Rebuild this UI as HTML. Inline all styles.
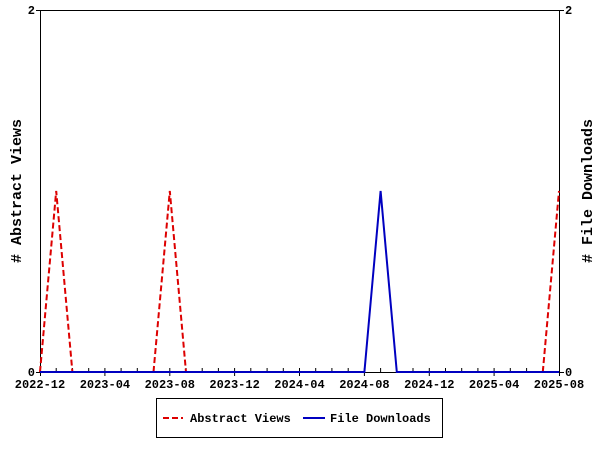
<!DOCTYPE html>
<html><head><meta charset="utf-8"><style>body{margin:0;background:#fff}svg{display:block}</style></head>
<body>
<svg width="600" height="450" xmlns="http://www.w3.org/2000/svg" font-family="Liberation Mono, DejaVu Sans Mono, monospace" font-weight="bold">
<rect x="0" y="0" width="600" height="450" fill="#fff"/>
<rect x="40.5" y="10.5" width="519" height="362" fill="none" stroke="#000" stroke-width="1"/>
<g stroke="#000" stroke-width="1">
<path d="M56.2 372v-4M72.4 372v-4M88.7 372v-4M121.1 372v-4M137.3 372v-4M153.5 372v-4M186 372v-4M202.2 372v-4M218.4 372v-4M250.8 372v-4M267.1 372v-4M283.3 372v-4M315.7 372v-4M331.9 372v-4M348.2 372v-4M380.6 372v-4M396.8 372v-4M413 372v-4M445.5 372v-4M461.7 372v-4M477.9 372v-4M510.3 372v-4M526.6 372v-4M542.8 372v-4"/>
<path d="M40.5 368v8M104.9 368v8M169.8 368v8M234.6 368v8M299.5 368v8M364.4 368v8M429.3 368v8M494.1 368v8M559.5 368v8"/>
<path d="M36 10.5h4M36 372.5h4M560 10.5h4M560 372.5h4"/>
</g>
<g font-size="12" text-anchor="middle" fill="#000">
<text x="40" y="388">2022-12</text><text x="104.9" y="388">2023-04</text><text x="169.8" y="388">2023-08</text>
<text x="234.6" y="388">2023-12</text><text x="299.5" y="388">2024-04</text><text x="364.4" y="388">2024-08</text>
<text x="429.3" y="388">2024-12</text><text x="494.1" y="388">2025-04</text><text x="559" y="388">2025-08</text>
</g>
<g font-size="12" fill="#000">
<text x="35" y="14" text-anchor="end">2</text><text x="35" y="376" text-anchor="end">0</text>
<text x="565" y="14">2</text><text x="565" y="376">0</text>
</g>
<text transform="translate(21,191) rotate(-90)" font-size="15" text-anchor="middle"># Abstract Views</text>
<text transform="translate(592,191) rotate(-90)" font-size="15" text-anchor="middle"># File Downloads</text>
<polyline fill="none" stroke="#d00" stroke-width="2" stroke-dasharray="6,3" points="40,372 56.2,191 72.4,372"/>
<polyline fill="none" stroke="#d00" stroke-width="2" stroke-dasharray="6,3" points="153.5,372 169.8,191 186,372"/>
<polyline fill="none" stroke="#d00" stroke-width="2" stroke-dasharray="6,3" points="542.8,372 559,191"/>
<polyline fill="none" stroke="#0000c0" stroke-width="2" points="40,372 364.4,372 380.6,191 396.8,372 559,372"/>
<rect x="156.5" y="398.5" width="286" height="39" fill="#fff" stroke="#000"/>
<line x1="163" y1="418" x2="183" y2="418" stroke="#d00" stroke-width="2" stroke-dasharray="6,3"/>
<line x1="303" y1="418" x2="325" y2="418" stroke="#0000c0" stroke-width="2"/>
<g font-size="12" fill="#000"><text x="190" y="422">Abstract Views</text><text x="330" y="422">File Downloads</text></g>
</svg>
</body></html>
